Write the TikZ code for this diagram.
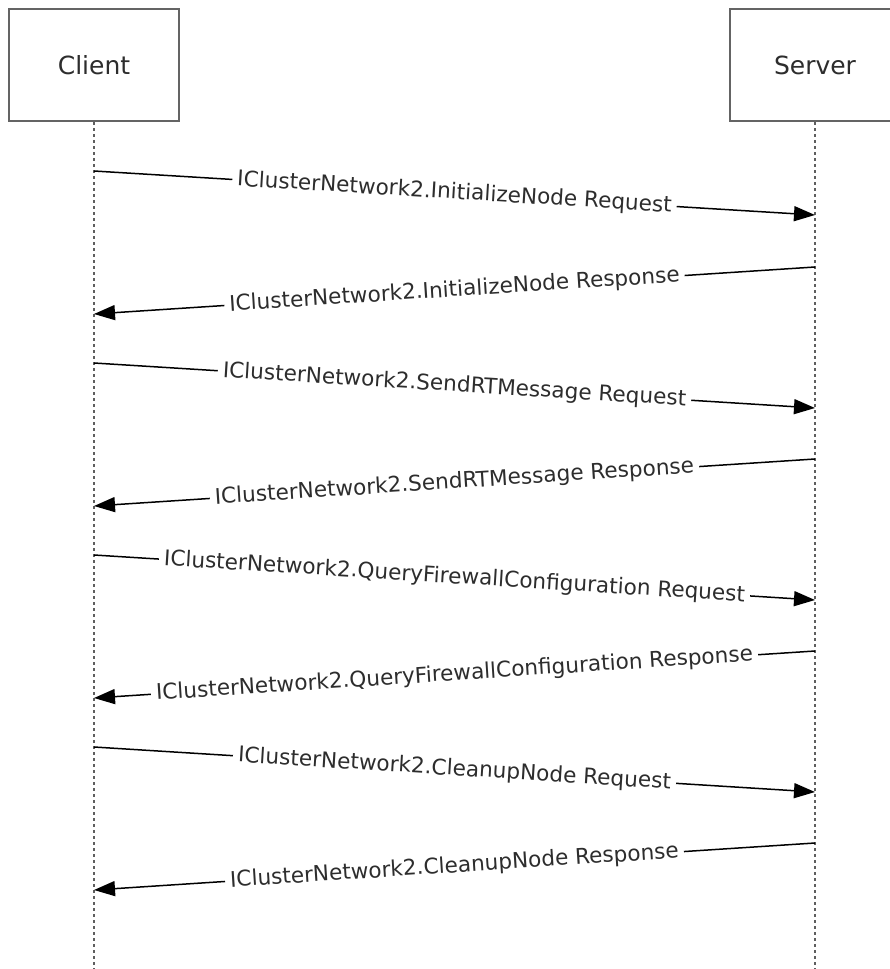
\documentclass[tikz,border=0pt]{standalone}
\usepackage{fontspec}
\setmainfont{DejaVu Sans}
\usetikzlibrary{arrows.meta}
\definecolor{boxgray}{RGB}{100,100,100}
\definecolor{txtgray}{RGB}{45,45,45}
\definecolor{lifegray}{RGB}{95,95,95}
\begin{document}
\begin{tikzpicture}[x=1pt,y=-1pt,
  actor/.style={draw=boxgray,line width=2pt,fill=white,minimum width=170pt,minimum height=112pt,inner sep=0pt,text=txtgray,font=\fontsize{25}{30}\selectfont},
  lifeline/.style={draw=lifegray,line width=2pt,dash pattern=on 3pt off 3pt},
  msg/.style={draw=black,line width=1.5pt,-{Triangle[length=21pt,width=15pt]}},
  lbl/.style={fill=white,sloped,inner xsep=5pt,inner ysep=1pt,text=txtgray,font=\fontsize{21.6}{25}\selectfont,midway}
]
\useasboundingbox (0,0) rectangle (889,969);
\fill[white] (0,0) rectangle (889,969);

\node[actor] (client) at (94,65) {Client};
\node[actor] (server) at (815,65) {Server};
\coordinate (cbot) at (94,969);
\coordinate (sbot) at (815,969);
\draw[lifeline] (client.south) -- (cbot);
\draw[lifeline] (server.south) -- (sbot);

\coordinate (c1) at (94,171);  \coordinate (s1) at (815,215);
\coordinate (s2) at (815,267); \coordinate (c2) at (94,314);
\coordinate (c3) at (94,363);  \coordinate (s3) at (815,408);
\coordinate (s4) at (815,459); \coordinate (c4) at (94,506);
\coordinate (c5) at (94,555);  \coordinate (s5) at (815,600);
\coordinate (s6) at (815,651); \coordinate (c6) at (94,698);
\coordinate (c7) at (94,747);  \coordinate (s7) at (815,792);
\coordinate (s8) at (815,843); \coordinate (c8) at (94,890);

\draw[msg] (c1) -- node[lbl] (m1) {IClusterNetwork2.InitializeNode Request} (s1);
\draw[msg] (s2) -- node[lbl] (m2) {IClusterNetwork2.InitializeNode Response} (c2);
\draw[msg] (c3) -- node[lbl] (m3) {IClusterNetwork2.SendRTMessage Request} (s3);
\draw[msg] (s4) -- node[lbl] (m4) {IClusterNetwork2.SendRTMessage Response} (c4);
\draw[msg] (c5) -- node[lbl] (m5) {IClusterNetwork2.QueryFirewallConfiguration Request} (s5);
\draw[msg] (s6) -- node[lbl] (m6) {IClusterNetwork2.QueryFirewallConfiguration Response} (c6);
\draw[msg] (c7) -- node[lbl] (m7) {IClusterNetwork2.CleanupNode Request} (s7);
\draw[msg] (s8) -- node[lbl] (m8) {IClusterNetwork2.CleanupNode Response} (c8);
\end{tikzpicture}
\end{document}
